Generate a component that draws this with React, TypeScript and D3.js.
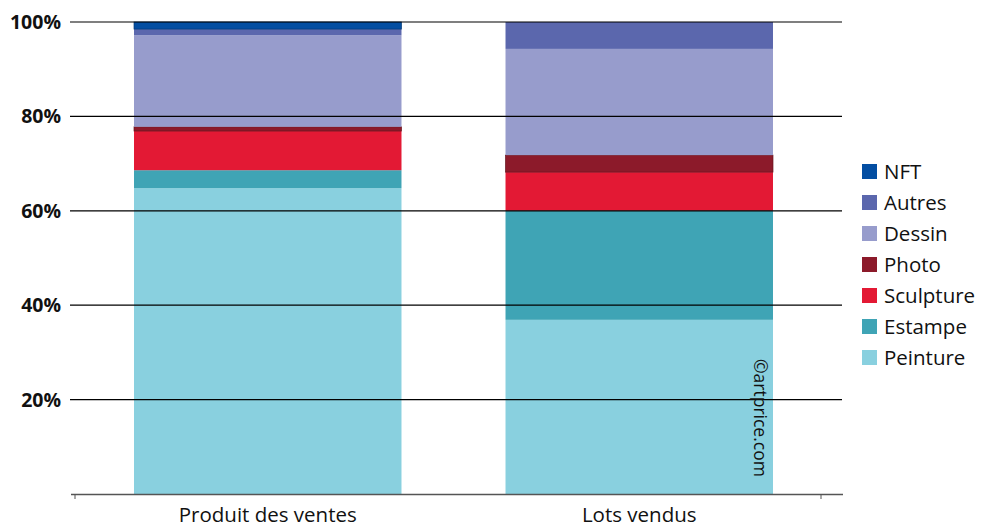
import { useRef, useEffect } from "react";
import * as d3 from "d3";

// categories (x axis)
const categories = ["Produit des ventes", "Lots vendus"];
// series, bottom to top
const seriesNames = ["Peinture", "Estampe", "Sculpture", "Photo", "Dessin", "Autres", "NFT"];
const peinture = [64.8, 36.9];
const estampe = [3.8, 23.1];
const sculpture = [8.3, 8.2];
const photo = [0.9, 3.6];
const dessin = [19.4, 22.5];
const autres = [1.3, 5.7];
const nft = [1.5, 0];
const colors = ["#89d0df", "#3fa4b5", "#e31934", "#8c1a2a", "#979ccc", "#5b67ad", "#034ea2"];
const outlined = ["Photo", "NFT"];
const yTicks = [20, 40, 60, 80, 100];

const App = () => {
  const svgRef = useRef<SVGSVGElement>(null);

  useEffect(() => {
    const w = 983;
    const h = 530;
    const svg = d3.select(svgRef.current).attr("width", w).attr("height", h);
    svg.selectAll("*").remove();

    const values = [peinture, estampe, sculpture, photo, dessin, autres, nft];
    const table = categories.map((c, i) => {
      const row: any = { cat: c };
      seriesNames.forEach((s, j) => (row[s] = values[j][i]));
      return row;
    });
    const stacked = d3.stack().keys(seriesNames)(table);

    const xScale = d3.scaleBand().domain(categories).range([82, 825]).padding(0);
    const yScale = d3.scaleLinear().domain([0, 100]).range([494, 22]);
    const barW = xScale.bandwidth() * 0.72;
    const font = "'Open Sans', 'Noto Sans', sans-serif";

    svg
      .append("g")
      .selectAll("text")
      .data(yTicks)
      .join("text")
      .attr("x", 61)
      .attr("y", (d) => yScale(d) + 7)
      .attr("text-anchor", "end")
      .style("font-family", font)
      .style("font-weight", "bold")
      .style("font-size", "19.5px")
      .style("fill", "#111")
      .text((d) => d + "%");

    // bars
    stacked.forEach((layer, j) => {
      svg
        .append("g")
        .selectAll("rect")
        .data(layer)
        .join("rect")
        .attr("x", (d: any) => xScale(d.data.cat)! + xScale.bandwidth() / 2 - barW / 2)
        .attr("width", barW)
        .attr("y", (d) => yScale(d[1]))
        .attr("height", (d) => Math.max(0, yScale(d[0]) - yScale(d[1])))
        .attr("fill", colors[j])
        .attr("stroke", (d) =>
          outlined.includes(seriesNames[j]) && d[1] - d[0] > 0
            ? d3.color(colors[j])!.darker(0.9).toString()
            : "none"
        )
        .attr("stroke-width", 0.7);
    });

    // grid lines over the bars
    svg
      .append("g")
      .selectAll("line")
      .data(yTicks)
      .join("line")
      .attr("x1", 70)
      .attr("x2", 842)
      .attr("y1", (d) => yScale(d))
      .attr("y2", (d) => yScale(d))
      .attr("stroke", "#000")
      .attr("stroke-width", 1.2);

    // x axis
    svg
      .append("line")
      .attr("x1", 71)
      .attr("x2", 843)
      .attr("y1", 494.5)
      .attr("y2", 494.5)
      .attr("stroke", "#555")
      .attr("stroke-width", 1.5);
    svg
      .append("g")
      .selectAll("line")
      .data([75, 821])
      .join("line")
      .attr("x1", (d) => d)
      .attr("x2", (d) => d)
      .attr("y1", 494)
      .attr("y2", 499)
      .attr("stroke", "#555")
      .attr("stroke-width", 1);

    svg
      .append("g")
      .selectAll("text")
      .data(categories)
      .join("text")
      .attr("x", (d) => xScale(d)! + xScale.bandwidth() / 2)
      .attr("y", 522)
      .attr("text-anchor", "middle")
      .style("font-family", font)
      .style("font-size", "20.5px")
      .style("fill", "#111")
      .text((d) => d);

    // watermark
    svg
      .append("text")
      .attr("transform", "translate(754, 359) rotate(90)")
      .style("font-family", font)
      .style("font-size", "17.5px")
      .style("fill", "#111")
      .text("©artprice.com");

    // legend (top entry = NFT)
    const legendItems = seriesNames.map((s, j) => ({ s, c: colors[j] })).reverse();
    const lg = svg
      .append("g")
      .selectAll("g")
      .data(legendItems)
      .join("g")
      .attr("transform", (d, i) => `translate(862, ${164 + i * 31})`);
    lg.append("rect").attr("width", 15).attr("height", 15).attr("fill", (d) => d.c);
    lg.append("text")
      .attr("x", 22)
      .attr("y", 15)
      .style("font-family", font)
      .style("font-size", "20.5px")
      .style("fill", "#111")
      .text((d) => d.s);
  }, []);

  return (
    <div style={{ position: "absolute", left: 0, top: 0 }}>
      <svg ref={svgRef}></svg>
    </div>
  );
};

export default App;
